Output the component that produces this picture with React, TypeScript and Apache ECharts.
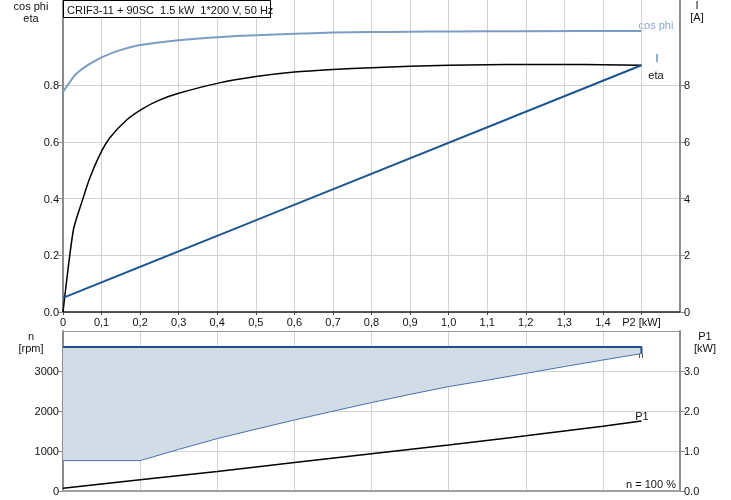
import React, { useEffect, useRef } from 'react';
import * as echarts from 'echarts';

// ---- data ----
const P2_LABEL_TICKS = [0, 0.1, 0.2, 0.3, 0.4, 0.5, 0.6, 0.7, 0.8, 0.9, 1.0, 1.1, 1.2, 1.3, 1.4, 1.5];
const ETA_TICKS = [0, 0.2, 0.4, 0.6, 0.8];
const I_TICKS = [0, 2, 4, 6, 8];
const N_TICKS = [0, 1000, 2000, 3000];
const P1_TICKS = [0, 1, 2, 3];

const COS_PHI_P2 = [0, 0.031, 0.05, 0.075, 0.1, 0.15, 0.2, 0.3, 0.4, 0.5, 0.6, 0.7, 0.8, 0.9, 1.0, 1.2, 1.5];
const COS_PHI = [0.776, 0.835, 0.857, 0.879, 0.898, 0.924, 0.941, 0.958, 0.969, 0.976, 0.981, 0.985, 0.987, 0.988, 0.989, 0.990, 0.991];

const ETA_P2 = [0, 0.027, 0.053, 0.07, 0.096, 0.122, 0.165, 0.208, 0.25, 0.3, 0.4, 0.5, 0.6, 0.7, 0.8, 0.9, 1.0, 1.1, 1.2, 1.3, 1.4, 1.5];
const ETA = [0, 0.29, 0.405, 0.474, 0.556, 0.615, 0.677, 0.718, 0.747, 0.771, 0.806, 0.83, 0.846, 0.855, 0.861, 0.866, 0.870, 0.872, 0.873, 0.873, 0.872, 0.870];

const I_P2 = [0, 1.5];
const I_AMPS = [0.5, 8.7];

const N_P2 = [0, 0.2, 0.3, 0.4, 0.5, 0.6, 0.7, 0.8, 0.9, 1.0, 1.1, 1.2, 1.3, 1.4, 1.5];
const N_MIN = [760, 760, 1040, 1310, 1545, 1775, 1995, 2210, 2415, 2610, 2770, 2940, 3110, 3275, 3435];
const N_MAX = [3600, 3600, 3600, 3600, 3600, 3600, 3600, 3600, 3600, 3600, 3600, 3600, 3600, 3600, 3600];

const P1_P2 = [0, 0.2, 0.4, 0.6, 0.8, 1.0, 1.2, 1.4, 1.5];
const P1_KW = [0.07, 0.28, 0.49, 0.71, 0.93, 1.15, 1.38, 1.62, 1.75];

const FONT = '"Liberation Sans", Arial, sans-serif';
const GRID_COLOR = '#d2d2d2';
const AXIS_GRAY = '#8c8c8c';

const zip = (xs: number[], ys: number[]) => xs.map((x, i) => [x, ys[i]]);

export default function App() {
  const ref = useRef<HTMLDivElement>(null);
  useEffect(() => {
    if (!ref.current) return;
    const chart = echarts.init(ref.current, undefined, { renderer: 'svg' });
    const labelStyle = { fontFamily: FONT, fontSize: 11, color: '#111' };
    const text = (x: number, y: number, t: string, extra: any = {}) => ({
      type: 'text', x, y, silent: true,
      style: { text: t, font: `11px ${FONT}`, fill: '#111', textAlign: 'center', textVerticalAlign: 'middle', ...extra },
    });
    const last = N_P2.length - 1;
    chart.setOption({
      animation: false,
      grid: [
        { left: 63, top: 0, width: 617, height: 312 },
        { left: 63, top: 331, width: 617, height: 160 },
      ],
      xAxis: [
        {
          type: 'value', gridIndex: 0, min: 0, max: 1.6, interval: 0.1,
          axisLine: { show: true, onZero: false, lineStyle: { color: '#222', width: 1.5 } },
          axisTick: { show: true, customValues: P2_LABEL_TICKS, length: 3, lineStyle: { color: '#444' } },
          axisLabel: {
            customValues: P2_LABEL_TICKS, margin: 4, ...labelStyle,
            formatter: (v: number) => (Math.abs(v - 1.5) < 1e-9 ? 'P2 [kW]' : v === 0 ? '0' : v.toFixed(1).replace('.', ',')),
          },
          splitLine: { show: true, lineStyle: { color: GRID_COLOR, width: 1 } },
        },
        {
          type: 'value', gridIndex: 1, min: 0, max: 1.6, interval: 0.2,
          axisLine: { show: true, onZero: false, lineStyle: { color: '#a0a0a0', width: 2 } },
          axisTick: { show: false }, axisLabel: { show: false },
          splitLine: { show: true, lineStyle: { color: GRID_COLOR, width: 1 } },
        },
        {
          type: 'value', gridIndex: 1, min: 0, max: 1.6, position: 'top',
          axisLine: { show: true, onZero: false, lineStyle: { color: '#999', width: 1 } },
          axisTick: { show: false }, axisLabel: { show: false }, splitLine: { show: false },
        },
      ],
      yAxis: [
        {
          type: 'value', gridIndex: 0, min: 0, max: 1.1, interval: 0.1,
          axisLine: { show: true, onZero: false, lineStyle: { color: AXIS_GRAY, width: 2 } },
          axisTick: { show: true, customValues: ETA_TICKS, length: 5, lineStyle: { color: AXIS_GRAY } },
          axisLabel: { customValues: ETA_TICKS, margin: 4, ...labelStyle, formatter: (v: number) => v.toFixed(1) },
          splitLine: { show: true, lineStyle: { color: GRID_COLOR, width: 1 } },
        },
        {
          type: 'value', gridIndex: 0, position: 'right', min: 0, max: 11, interval: 1,
          axisLine: { show: true, onZero: false, lineStyle: { color: AXIS_GRAY, width: 2 } },
          axisTick: { show: true, customValues: I_TICKS, length: 5, lineStyle: { color: AXIS_GRAY } },
          axisLabel: { customValues: I_TICKS, margin: 4, ...labelStyle, formatter: (v: number) => String(v) },
          splitLine: { show: false },
        },
        {
          type: 'value', gridIndex: 1, min: 0, max: 4000, interval: 500,
          axisLine: { show: true, onZero: false, lineStyle: { color: AXIS_GRAY, width: 2 } },
          axisTick: { show: true, customValues: N_TICKS, length: 5, lineStyle: { color: AXIS_GRAY } },
          axisLabel: { customValues: N_TICKS, margin: 4, ...labelStyle, formatter: (v: number) => String(v) },
          splitLine: { show: true, lineStyle: { color: GRID_COLOR, width: 1 } },
        },
        {
          type: 'value', gridIndex: 1, position: 'right', min: 0, max: 4, interval: 0.5,
          axisLine: { show: true, onZero: false, lineStyle: { color: AXIS_GRAY, width: 2 } },
          axisTick: { show: true, customValues: P1_TICKS, length: 5, lineStyle: { color: AXIS_GRAY } },
          axisLabel: { customValues: P1_TICKS, margin: 4, ...labelStyle, formatter: (v: number) => v.toFixed(1) },
          splitLine: { show: false },
        },
      ],
      series: [
        {
          name: 'cos phi', type: 'line', xAxisIndex: 0, yAxisIndex: 0, data: zip(COS_PHI_P2, COS_PHI),
          showSymbol: false, smooth: 0.2, lineStyle: { color: '#7b9dc4', width: 2 }, silent: true,
        },
        {
          name: 'eta', type: 'line', xAxisIndex: 0, yAxisIndex: 0, data: zip(ETA_P2, ETA),
          showSymbol: false, smooth: 0.2, lineStyle: { color: '#000', width: 1.5 }, silent: true,
        },
        {
          name: 'I', type: 'line', xAxisIndex: 0, yAxisIndex: 1, data: zip(I_P2, I_AMPS),
          showSymbol: false, lineStyle: { color: '#1d5492', width: 2 }, silent: true,
        },
        {
          name: 'n band', type: 'custom', xAxisIndex: 1, yAxisIndex: 2, data: [[0, 0]], silent: true, z: 1,
          renderItem: (params: any, api: any) => {
            if (params.dataIndex !== 0) return null;
            const top = N_P2.map((x, i) => api.coord([x, N_MAX[i]]));
            const bottom = N_P2.map((x, i) => api.coord([x, N_MIN[i]])).reverse();
            return { type: 'polygon', shape: { points: top.concat(bottom) }, style: { fill: '#d1dce7' } };
          },
        },
        {
          name: 'n max', type: 'line', xAxisIndex: 1, yAxisIndex: 2,
          data: zip(N_P2, N_MAX).concat([[N_P2[last], N_MIN[last]]]),
          showSymbol: false, lineStyle: { color: '#1f4f88', width: 2 }, silent: true, z: 3,
        },
        {
          name: 'n min', type: 'line', xAxisIndex: 1, yAxisIndex: 2, data: zip(N_P2, N_MIN),
          showSymbol: false, lineStyle: { color: '#4a72a6', width: 1 }, silent: true, z: 3,
        },
        {
          name: 'P1', type: 'line', xAxisIndex: 1, yAxisIndex: 3, data: zip(P1_P2, P1_KW),
          showSymbol: false, lineStyle: { color: '#000', width: 1.5 }, silent: true, z: 3,
        },
      ],
      graphic: [
        { type: 'rect', shape: { x: 63.5, y: 0.5, width: 207, height: 17 }, style: { fill: '#fff', stroke: '#000', lineWidth: 1 }, z: 100, silent: true },
        { ...text(67, 9.5, 'CRIF3-11 + 90SC  1.5 kW  1*200 V, 50 Hz', { textAlign: 'left' }), z: 101 },
        text(31, 6, 'cos phi'),
        text(31, 18, 'eta'),
        text(697, 5, 'I'),
        text(697, 17, '[A]'),
        text(31, 336, 'n'),
        text(31, 348, '[rpm]'),
        text(705, 336, 'P1'),
        text(705, 348, '[kW]'),
        text(656, 25, 'cos phi', { fill: '#8aa6c8' }),
        text(657, 58, 'I', { fill: '#3a64a8' }),
        text(656, 75, 'eta'),
        text(641, 355, 'n', { font: `9px ${FONT}`, fill: '#333' }),
        text(642, 416, 'P1'),
        text(651, 484, 'n = 100 %'),
      ],
    });
    return () => chart.dispose();
  }, []);
  return <div ref={ref} style={{ position: 'fixed', left: 0, top: 0, width: 731, height: 500 }} />;
}
